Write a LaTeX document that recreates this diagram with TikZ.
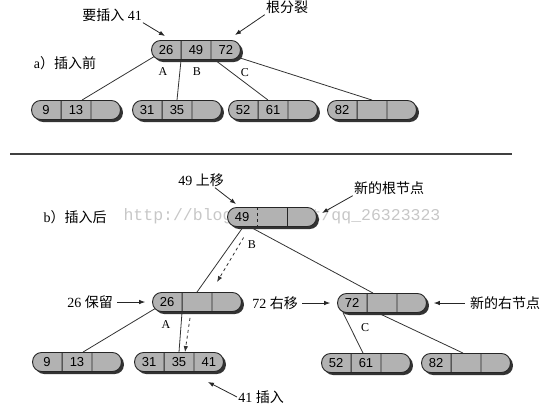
\documentclass[tikz,border=0pt]{standalone}
\usepackage{fontspec}
\setmainfont{Liberation Serif}
\setsansfont{Liberation Sans}
\setmonofont{Liberation Mono}
\newfontfamily\cjk{Noto Sans CJK SC}
\usetikzlibrary{positioning,shapes.multipart,shadows,arrows.meta,backgrounds}

\tikzset{
  bnode/.style={rectangle split, rectangle split horizontal, rectangle split parts=3,
    draw=black!85, line width=0.9pt, rounded corners=9pt, fill=black!30,
    drop shadow={shadow xshift=2.5pt, shadow yshift=-2.5pt, fill=black!80, opacity=1},
    minimum height=19pt, inner xsep=0pt, inner ysep=2pt,
    font=\sffamily\fontsize{13}{13}\selectfont},
  link/.style={draw=black!80, line width=0.8pt},
  trail/.style={link, dashed, -{Latex[length=6pt,width=4.5pt]}},
  annot/.style={draw=black!85, line width=0.8pt, -{Latex[length=6pt,width=4.5pt]}},
  note/.style={font=\fontsize{14}{16}\selectfont, inner sep=1pt},
  ptr/.style={font=\fontsize{12}{12}\selectfont, inner sep=0pt},
}
\newcommand{\bkeys}[3]{\makebox[29pt]{#1}\nodepart{two}\makebox[29pt]{#2}\nodepart{three}\makebox[29pt]{#3}}

\begin{document}
\begin{tikzpicture}[x=1pt, y=-1pt]
    \useasboundingbox (0,0) rectangle (547,408);

    % a) before the insertion
    \node[bnode] (ra) at (196,50) {\bkeys{26}{49}{72}};
    \node[bnode] (a1) at (76,110) {\bkeys{9}{13}{}};
    \node[bnode] (a2) at (177,110) {\bkeys{31}{35}{}};
    \node[bnode] (a3) at (273,110) {\bkeys{52}{61}{}};
    \node[bnode] (a4) at (372,110) {\bkeys{82}{}{}};

    \node[ptr] (pa) at (163,72) {A};
    \node[ptr] (pb) at (197,72) {B};
    \node[ptr] (pc) at (245,73) {C};

    \node[note] (tins) at (112,15) {{\cjk 要插入} 41};
    \coordinate (pins) at (165,36);
    \draw[annot] (tins.south east) -- (pins);
    \node[note] (tspl) at (287,7) {\cjk 根分裂};
    \coordinate (pspl) at (235,35);
    \draw[annot] (tspl.south west) -- (pspl);
    \node[note] (ta) at (65,63) {a{\cjk ）插入前}};

    \draw[line width=1.2pt, black!75] (10,154) -- (512,154);

    % b) after the insertion
    \node[bnode, rectangle split draw splits=false] (rb) at (272,217) {\bkeys{49}{}{}};
    \draw[black!85, line width=0.9pt, dashed] (rb.one split north) -- (rb.one split south);
    \draw[black!85, line width=0.9pt] (rb.two split north) -- (rb.two split south);
    \node[bnode] (n26) at (197,302) {\bkeys{26}{}{}};
    \node[bnode] (n72) at (382,303) {\bkeys{72}{}{}};
    \node[bnode] (b1) at (77,362) {\bkeys{9}{13}{}};
    \node[bnode] (b2) at (179,362) {\bkeys{31}{35}{41}};
    \node[bnode] (b3) at (366,363) {\bkeys{52}{61}{}};
    \node[bnode] (b4) at (466,363) {\bkeys{82}{}{}};

    \node[ptr] (qb) at (252,245) {B};
    \node[ptr] (qa) at (166,325) {A};
    \node[ptr] (qc) at (365,328) {C};

    \node[note] (tup) at (201,180) {49 {\cjk 上移}};
    \coordinate (pup) at (236,204);
    \draw[annot] ([xshift=-10pt]tup.south east) -- (pup);
    \node[note] (tb) at (75,217) {b{\cjk ）插入后}};
    \node[note] (troot) at (389,188) {\cjk 新的根节点};
    \coordinate (proot) at (322,213);
    \draw[annot] (troot.south west) -- (proot);
    \node[note, left=38pt of n26] (t26) {26 {\cjk 保留}};
    \draw[annot, shorten <=3pt, shorten >=7pt] (t26) -- (n26);
    \node[note, left=38pt of n72] (t72) {72 {\cjk 右移}};
    \draw[annot, shorten <=3pt, shorten >=7pt] (t72) -- (n72);
    \node[note, right=42pt of n72] (tright) {\cjk 新的右节点};
    \draw[annot, shorten <=4pt, shorten >=7pt] (tright) -- (n72);
    \node[note] (t41) at (261,397) {41 {\cjk 插入}};
    \coordinate (p41) at (208,382);
    \draw[annot] (t41.west) -- (p41);

    \begin{scope}[on background layer]
      \node[text=black!22, font=\ttfamily\fontsize{16.5}{16.5}\selectfont] (wm) at (282,216) {http://blog.csdn.net/qq\_26323323};
      % tree links
      \draw[link] ([xshift=4pt,yshift=4pt]ra.south west) -- ([xshift=6pt]a1.north);
      \draw[link] (ra.one split south) -- (a2.north);
      \draw[link] ([xshift=4pt]ra.two split south) -- ([xshift=-5pt]a3.north);
      \draw[link] ([xshift=-4pt,yshift=3pt]ra.south east) -- (a4.north);
      \draw[link] ([xshift=16pt]rb.south west) -- (n26.north);
      \draw[link] ([xshift=23pt]rb.south west) -- ([xshift=-9pt]n72.north);
      \draw[link] ([xshift=4pt,yshift=4pt]n26.south west) -- ([xshift=6pt]b1.north);
      \draw[link] (n26.one split south) -- (b2.north);
      \draw[link] ([xshift=6pt]n72.south west) -- ([xshift=-3pt]b3.north);
      \draw[link] ([xshift=-4pt]n72.south) -- ([xshift=-3pt]b4.north);
      % path of 41
      \draw[trail] ([xshift=16.5pt,yshift=-10.5pt]rb.south west) -- ([xshift=20pt,yshift=10pt]n26.north);
      \draw[trail] ([xshift=-7pt,yshift=-6pt]n26.south) -- ([xshift=6pt]b2.north);
    \end{scope}
\end{tikzpicture}
\end{document}
